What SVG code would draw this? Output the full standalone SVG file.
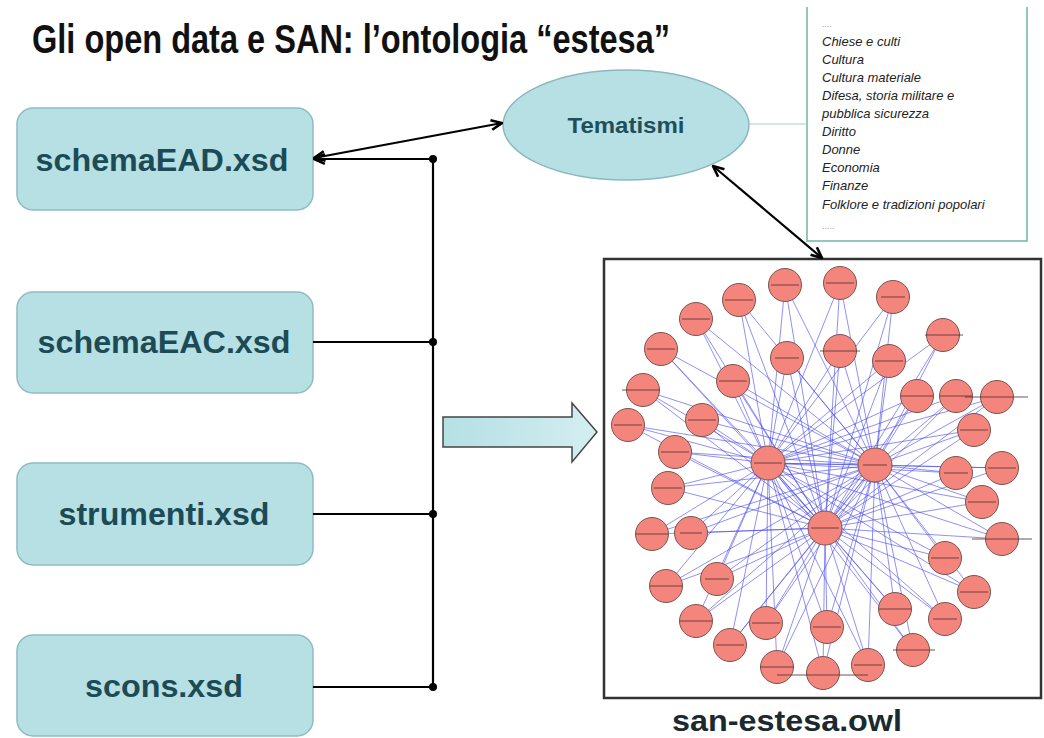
<svg xmlns="http://www.w3.org/2000/svg" width="1044" height="738" viewBox="0 0 1044 738">
<style>
.box{fill:#b6e0e4;stroke:#8dbcc0;stroke-width:1.5}
.bt{font-family:"Liberation Sans",Arial,sans-serif;font-weight:bold;font-size:31px;fill:#1d4b55;text-anchor:middle}
.ln{fill:none;stroke:#000;stroke-width:2.2}
.dot{fill:#000}
.li{font-family:"Liberation Sans",Arial,sans-serif;font-style:italic;font-size:13px;fill:#222}
.dd{font-family:"Liberation Sans",Arial,sans-serif;font-size:9px;fill:#999}
.n{fill:#f3857d;stroke:#7a5550;stroke-width:1}
.e{fill:none;stroke:#4646ee;stroke-opacity:0.6;stroke-width:1}
.lab{fill:none;stroke:#5a3535;stroke-width:1;stroke-opacity:0.85}
</style>
<defs>
<marker id="ah" viewBox="0 0 12 12" refX="11" refY="6" markerWidth="13" markerHeight="13" markerUnits="userSpaceOnUse" orient="auto-start-reverse">
<path d="M1 1.5 L11 6 L1 10.5" fill="none" stroke="#000" stroke-width="2.4"/>
</marker>
<linearGradient id="ag" x1="0" y1="0" x2="1" y2="0">
<stop offset="0" stop-color="#b4e0e4"/>
<stop offset="1" stop-color="#d4eef0"/>
</linearGradient>
</defs>
<rect width="1044" height="738" fill="#fff"/>
<text x="32" y="53" font-family="'Liberation Sans',Arial,sans-serif" font-weight="bold" font-size="40" fill="#111" textLength="638" lengthAdjust="spacingAndGlyphs">Gli open data e SAN: l’ontologia “estesa”</text>

<g id="schemaEAD"><rect class="box" x="17" y="108" width="296" height="102" rx="16"/><text class="bt" x="162" y="171" textLength="253" lengthAdjust="spacingAndGlyphs">schemaEAD.xsd</text></g>
<g id="schemaEAC"><rect class="box" x="17" y="292" width="296" height="101" rx="16"/><text class="bt" x="164" y="353" textLength="253" lengthAdjust="spacingAndGlyphs">schemaEAC.xsd</text></g>
<g id="strumenti"><rect class="box" x="17" y="463" width="296" height="102" rx="16"/><text class="bt" x="164" y="525" textLength="211" lengthAdjust="spacingAndGlyphs">strumenti.xsd</text></g>
<g id="scons"><rect class="box" x="17" y="635" width="296" height="101" rx="16"/><text class="bt" x="164" y="697" textLength="158" lengthAdjust="spacingAndGlyphs">scons.xsd</text></g>

<g id="tematismi"><ellipse cx="626" cy="125" rx="123" ry="55" fill="#b7e0e4" stroke="#8ab8bc" stroke-width="1.5"/><text x="626" y="133" text-anchor="middle" font-family="'Liberation Sans',Arial,sans-serif" font-weight="bold" font-size="22" fill="#1f4f5a" textLength="117" lengthAdjust="spacingAndGlyphs">Tematismi</text></g>

<g id="elenco">
<path d="M807 7 V241 H1027 V7" fill="#fff" stroke="#6db5a8" stroke-width="1.5"/>
<text class="dd" x="822" y="27">....</text>
<text class="li" x="822" y="46">Chiese e culti</text>
<text class="li" x="822" y="64">Cultura</text>
<text class="li" x="822" y="82">Cultura materiale</text>
<text class="li" x="822" y="100">Difesa, storia militare e</text>
<text class="li" x="822" y="118">pubblica sicurezza</text>
<text class="li" x="822" y="136">Diritto</text>
<text class="li" x="822" y="154">Donne</text>
<text class="li" x="822" y="172">Economia</text>
<text class="li" x="822" y="190">Finanze</text>
<text class="li" x="822" y="209">Folklore e tradizioni popolari</text>
<text class="dd" x="822" y="229">.....</text>
</g>

<g id="freccia"><polygon points="443,417 572,417 572,403 597,432 572,462 572,447 443,447" fill="url(#ag)" stroke="#444" stroke-width="1.5"/></g>

<g id="san-estesa">
<rect x="604" y="259" width="437" height="439" fill="#fff" stroke="#333" stroke-width="2.5"/>
<path class="e" d="M768 463L785 285M768 463L840 283M768 463L739 300M768 463L893 297M768 463L696 319M768 463L943 335M768 463L661 349M768 463L787 358M768 463L840 351M768 463L889 361M768 463L733 381M768 463L643 390M768 463L917 396M768 463L956 396M768 463L997 397M768 463L628 425M768 463L702 420M768 463L974 430M768 463L675 452M768 463L1002 468M768 463L956 473M768 463L668 488M768 463L982 502M768 463L652 534M768 463L691 533M768 463L1002 539M768 463L945 558M768 463L666 586M768 463L717 579M768 463L974 592M768 463L895 609M768 463L696 621M768 463L766 623M768 463L827 627M768 463L945 619M768 463L730 645M768 463L913 650M768 463L777 667M768 463L823 673M768 463L868 665"/>
<path class="e" d="M875 465L785 285M875 465L840 283M875 465L739 300M875 465L893 297M875 465L696 319M875 465L943 335M875 465L661 349M875 465L787 358M875 465L840 351M875 465L889 361M875 465L733 381M875 465L643 390M875 465L917 396M875 465L956 396M875 465L997 397M875 465L628 425M875 465L702 420M875 465L974 430M875 465L675 452M875 465L1002 468M875 465L956 473M875 465L668 488M875 465L982 502M875 465L652 534M875 465L691 533M875 465L1002 539M875 465L945 558M875 465L666 586M875 465L717 579M875 465L974 592M875 465L895 609M875 465L696 621M875 465L766 623M875 465L827 627M875 465L945 619M875 465L730 645M875 465L913 650M875 465L777 667M875 465L823 673M875 465L868 665"/>
<path class="e" d="M825 528L785 285M825 528L840 283M825 528L739 300M825 528L893 297M825 528L696 319M825 528L943 335M825 528L661 349M825 528L787 358M825 528L840 351M825 528L889 361M825 528L733 381M825 528L643 390M825 528L917 396M825 528L956 396M825 528L997 397M825 528L628 425M825 528L702 420M825 528L974 430M825 528L675 452M825 528L1002 468M825 528L956 473M825 528L668 488M825 528L982 502M825 528L652 534M825 528L691 533M825 528L1002 539M825 528L945 558M825 528L666 586M825 528L717 579M825 528L974 592M825 528L895 609M825 528L696 621M825 528L766 623M825 528L827 627M825 528L945 619M825 528L730 645M825 528L913 650M825 528L777 667M825 528L823 673M825 528L868 665M768 463L875 465M768 463L825 528M875 465L825 528"/>
<circle class="n" cx="785" cy="285" r="16.5"/><circle class="n" cx="840" cy="283" r="16.5"/><circle class="n" cx="739" cy="300" r="16.5"/><circle class="n" cx="893" cy="297" r="16.5"/>
<circle class="n" cx="696" cy="319" r="16.5"/><circle class="n" cx="943" cy="335" r="16.5"/><circle class="n" cx="661" cy="349" r="16.5"/><circle class="n" cx="787" cy="358" r="16.5"/>
<circle class="n" cx="840" cy="351" r="16.5"/><circle class="n" cx="889" cy="361" r="16.5"/><circle class="n" cx="733" cy="381" r="16.5"/><circle class="n" cx="643" cy="390" r="16.5"/>
<circle class="n" cx="917" cy="396" r="16.5"/><circle class="n" cx="956" cy="396" r="16.5"/><circle class="n" cx="997" cy="397" r="16.5"/><circle class="n" cx="628" cy="425" r="16.5"/>
<circle class="n" cx="702" cy="420" r="16.5"/><circle class="n" cx="974" cy="430" r="16.5"/><circle class="n" cx="675" cy="452" r="16.5"/><circle class="n" cx="1002" cy="468" r="16.5"/>
<circle class="n" cx="956" cy="473" r="16.5"/><circle class="n" cx="668" cy="488" r="16.5"/><circle class="n" cx="982" cy="502" r="16.5"/><circle class="n" cx="652" cy="534" r="16.5"/>
<circle class="n" cx="691" cy="533" r="16.5"/><circle class="n" cx="1002" cy="539" r="16.5"/><circle class="n" cx="945" cy="558" r="16.5"/><circle class="n" cx="666" cy="586" r="16.5"/>
<circle class="n" cx="717" cy="579" r="16.5"/><circle class="n" cx="974" cy="592" r="16.5"/><circle class="n" cx="895" cy="609" r="16.5"/><circle class="n" cx="696" cy="621" r="16.5"/>
<circle class="n" cx="766" cy="623" r="16.5"/><circle class="n" cx="827" cy="627" r="16.5"/><circle class="n" cx="945" cy="619" r="16.5"/><circle class="n" cx="730" cy="645" r="16.5"/>
<circle class="n" cx="913" cy="650" r="16.5"/><circle class="n" cx="777" cy="667" r="16.5"/><circle class="n" cx="823" cy="673" r="16.5"/><circle class="n" cx="868" cy="665" r="16.5"/>
<circle class="n" cx="768" cy="463" r="17"/><circle class="n" cx="875" cy="465" r="17"/><circle class="n" cx="825" cy="528" r="17"/>
<path class="lab" d="M771 285h28M826 283h28M725 300h28M881 297h24M682 319h28M925 335h38M647 349h28M775 358h24M820 351h40M875 361h28M719 381h28M622 390h38M901 396h32M940 396h32M965 397h63M614 425h28M688 420h28M960 430h28M661 452h28M988 468h28M944 473h24M654 488h28M968 502h28M636 534h32M680 533h22M972 539h60M931 558h28M650 586h32M705 579h24M960 592h28M879 609h32M680 621h32M752 623h28M813 627h28M933 619h24M716 645h28M893 650h42M760 667h34M777 675h91M854 665h28M754 463h28M863 465h24M811 528h28"/>
<text x="787" y="731" text-anchor="middle" font-family="'Liberation Sans',Arial,sans-serif" font-weight="bold" font-size="30" fill="#1a2a30" textLength="230" lengthAdjust="spacingAndGlyphs">san-estesa.owl</text>
</g>

<g id="connettori">
<path class="ln" d="M433 159 V687"/>
<path class="ln" d="M433 159 H314" marker-end="url(#ah)"/>
<path class="ln" d="M433 342 H313"/>
<path class="ln" d="M433 514 H313"/>
<path class="ln" d="M433 687 H313"/>
<circle class="dot" cx="433" cy="159" r="4"/>
<circle class="dot" cx="433" cy="342" r="4"/>
<circle class="dot" cx="433" cy="514" r="4"/>
<circle class="dot" cx="433" cy="687" r="4"/>
<path class="ln" d="M314 158 L502 123" marker-start="url(#ah)" marker-end="url(#ah)"/>
<path class="ln" d="M713 166 L822 258" marker-start="url(#ah)" marker-end="url(#ah)"/>
<path d="M749 124 H807" fill="none" stroke="#a8cccc" stroke-width="1"/>
</g>
</svg>
